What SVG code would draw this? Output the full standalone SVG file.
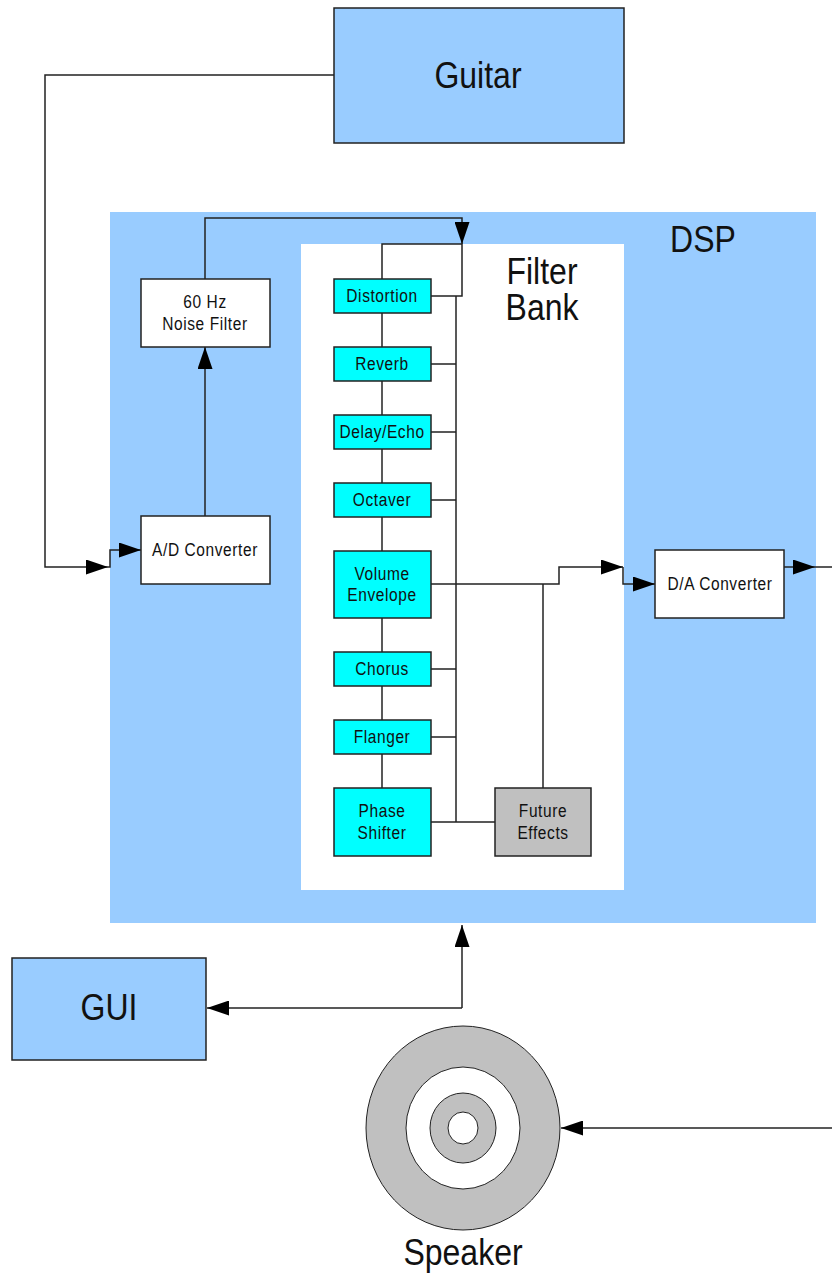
<svg xmlns="http://www.w3.org/2000/svg" width="832" height="1274" viewBox="0 0 832 1274">
<style>
.lbl{font-family:"Liberation Sans",Arial,sans-serif;fill:#111;text-anchor:middle}
.big{font-size:32px}
.sm{font-size:15.5px;letter-spacing:0.6px}
.box{stroke:#222;stroke-width:1.5}
.blue{fill:#99ccff}
.cyan{fill:#00ffff}
.gray{fill:#c0c0c0}
.white{fill:#ffffff}
.ln{fill:none;stroke:#222;stroke-width:1.5}
</style>
<defs>
<marker id="ah" viewBox="0 0 22 15" refX="22" refY="7.5" markerWidth="22" markerHeight="15" markerUnits="userSpaceOnUse" orient="auto">
<path d="M0,0 L22,7.5 L0,15 Z" fill="#000"/>
</marker>
</defs>
<rect width="832" height="1274" fill="#ffffff"/>

<g id="dsp">
<rect x="110" y="212" width="706" height="711" class="blue"/>
<text class="lbl big" transform="matrix(1 0 0 1.15 703 252)">DSP</text>
</g>
<g id="filterbank">
<rect x="301" y="244" width="323" height="646" class="white"/>
<text class="lbl big" transform="matrix(1 0 0 1.15 542 284)">Filter</text>
<text class="lbl big" transform="matrix(1 0 0 1.15 542 320)">Bank</text>
</g>

<g id="connectors">
<path class="ln" d="M334,75 H45 V567 H108" marker-end="url(#ah)"/>
<path class="ln" d="M108,567 H110 V550 H141" marker-end="url(#ah)"/>
<path class="ln" d="M205,516 V347" marker-end="url(#ah)"/>
<path class="ln" d="M205,279 V218 H462 V244" marker-end="url(#ah)"/>
<path class="ln" d="M382,279 V244 H462 V296 H431"/>
<path class="ln" d="M382,313 V788"/>
<path class="ln" d="M456,296 V822"/>
<path class="ln" d="M431,364 H456 M431,432 H456 M431,500 H456 M431,669 H456 M431,737 H456 M431,822 H495"/>
<path class="ln" d="M431,584 H559 V567 H623" marker-end="url(#ah)"/>
<path class="ln" d="M623,567 V584 H655" marker-end="url(#ah)"/>
<path class="ln" d="M543,788 V584"/>
<path class="ln" d="M784,567 H815" marker-end="url(#ah)"/>
<path class="ln" d="M815,567 H832"/>
<path class="ln" d="M462,1008 V925" marker-end="url(#ah)"/>
<path class="ln" d="M462,1008 H207" marker-end="url(#ah)"/>
<path class="ln" d="M832,1128 H561" marker-end="url(#ah)"/>
</g>

<g id="guitar">
<rect x="334" y="8" width="290" height="135" class="box blue"/>
<text class="lbl big" transform="matrix(1 0 0 1.15 478 88)">Guitar</text>
</g>
<g id="noisefilter">
<rect x="141" y="279" width="129" height="68" class="box white"/>
<text class="lbl sm" transform="matrix(1 0 0 1.15 205 308)">60 Hz</text>
<text class="lbl sm" transform="matrix(1 0 0 1.15 205 330)">Noise Filter</text>
</g>
<g id="adconverter">
<rect x="141" y="516" width="129" height="68" class="box white"/>
<text class="lbl sm" transform="matrix(1 0 0 1.15 205 556)">A/D Converter</text>
</g>
<g id="daconverter">
<rect x="655" y="550" width="129" height="68" class="box white"/>
<text class="lbl sm" transform="matrix(1 0 0 1.15 720 590)">D/A Converter</text>
</g>
<g id="distortion">
<rect x="334" y="279" width="97" height="34" class="box cyan"/>
<text class="lbl sm" transform="matrix(1 0 0 1.15 382 302)">Distortion</text>
</g>
<g id="reverb">
<rect x="334" y="347" width="97" height="34" class="box cyan"/>
<text class="lbl sm" transform="matrix(1 0 0 1.15 382 370)">Reverb</text>
</g>
<g id="delayecho">
<rect x="334" y="415" width="97" height="34" class="box cyan"/>
<text class="lbl sm" transform="matrix(1 0 0 1.15 382 438)">Delay/Echo</text>
</g>
<g id="octaver">
<rect x="334" y="483" width="97" height="34" class="box cyan"/>
<text class="lbl sm" transform="matrix(1 0 0 1.15 382 506)">Octaver</text>
</g>
<g id="volumeenvelope">
<rect x="334" y="551" width="97" height="67" class="box cyan"/>
<text class="lbl sm" transform="matrix(1 0 0 1.15 382 580)">Volume</text>
<text class="lbl sm" transform="matrix(1 0 0 1.15 382 601)">Envelope</text>
</g>
<g id="chorus">
<rect x="334" y="652" width="97" height="34" class="box cyan"/>
<text class="lbl sm" transform="matrix(1 0 0 1.15 382 675)">Chorus</text>
</g>
<g id="flanger">
<rect x="334" y="720" width="97" height="34" class="box cyan"/>
<text class="lbl sm" transform="matrix(1 0 0 1.15 382 743)">Flanger</text>
</g>
<g id="phaseshifter">
<rect x="334" y="788" width="97" height="68" class="box cyan"/>
<text class="lbl sm" transform="matrix(1 0 0 1.15 382 817)">Phase</text>
<text class="lbl sm" transform="matrix(1 0 0 1.15 382 839)">Shifter</text>
</g>
<g id="futureeffects">
<rect x="495" y="788" width="96" height="68" class="box gray"/>
<text class="lbl sm" transform="matrix(1 0 0 1.15 543 817)">Future</text>
<text class="lbl sm" transform="matrix(1 0 0 1.15 543 839)">Effects</text>
</g>
<g id="gui">
<rect x="12" y="958" width="194" height="102" class="box blue"/>
<text class="lbl big" transform="matrix(1 0 0 1.15 109 1020)">GUI</text>
</g>
<g id="speaker">
<ellipse cx="463" cy="1128" rx="97" ry="102" fill="#c0c0c0" stroke="#222" stroke-width="1"/>
<ellipse cx="463" cy="1128" rx="57" ry="61" fill="#ffffff" stroke="#222" stroke-width="1"/>
<ellipse cx="463" cy="1128" rx="33" ry="35" fill="#c0c0c0" stroke="#222" stroke-width="1"/>
<ellipse cx="463" cy="1128" rx="15" ry="16" fill="#ffffff" stroke="#222" stroke-width="1"/>
<text class="lbl big" transform="matrix(1 0 0 1.15 463 1265)">Speaker</text>
</g>
</svg>
